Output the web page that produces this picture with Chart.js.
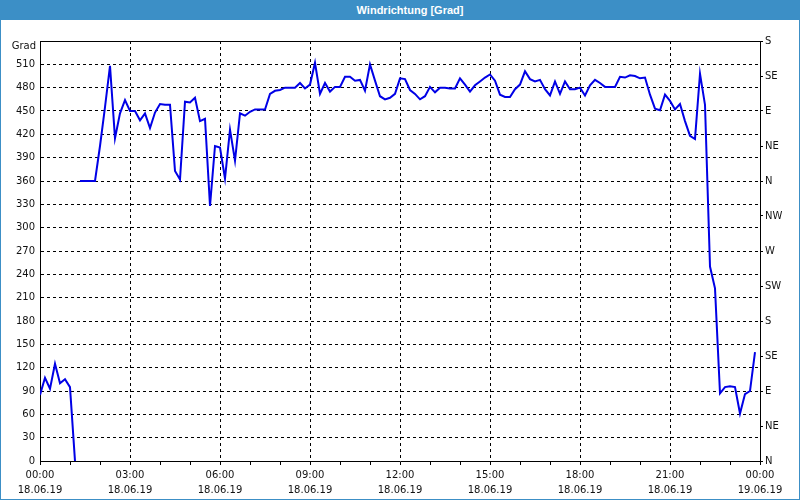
<!DOCTYPE html>
<html>
<head>
<meta charset="utf-8">
<title>Windrichtung</title>
<script src="https://cdn.jsdelivr.net/npm/chart.js@4"></script>
<style>
  html, body { margin: 0; padding: 0; background: #fff; }
  #frame { position: relative; width: 800px; height: 500px; overflow: hidden; background: #fff; }
  #head { position: absolute; left: 0; top: 0; width: 800px; height: 20px; background: #3c8fc6;
          color: #fff; font: bold 11px "Liberation Sans", sans-serif; line-height: 20px;
          text-align: center; box-sizing: border-box; padding-left: 20px; }
  #plot { position: absolute; left: 0; top: 20px; width: 800px; height: 480px; }
  #edge { position: absolute; left: 0; top: 0; width: 800px; height: 500px; box-sizing: border-box;
          border: 1px solid #3c8fc6; pointer-events: none; }
</style>
</head>
<body>
<div id="frame">
  <div id="head">Windrichtung [Grad]</div>
  <div id="plot"><canvas id="windChart"></canvas></div>
  <div id="edge"></div>
</div>
<script>
// one reading every 10 minutes, starting 18.06.19 00:00
const stepMinutes = 10;
const days = ['18.06.19', '19.06.19'];
const grad = [
  85, 107, 93, 125, 100, 105, 95, 0,                 // 00:00 - 01:10
  360, 360, 360, 360, 405, 455, 508, 415, 447, 464,  // 01:20 - 02:50
  450, 450, 438, 447, 428, 448, 459, 458, 458, 373,  // 03:00 - 04:30
  362, 462, 461, 467, 437, 440, 328, 405, 403, 363,  // 04:40 - 06:10
  426, 386, 447, 444, 449, 452, 452, 452, 472, 476,  // 06:20 - 07:50
  477, 480, 480, 480, 486, 479, 484, 512, 472, 486,  // 08:00 - 09:30
  475, 481, 481, 494, 494, 489, 490, 476, 510, 489,  // 09:40 - 11:10
  469, 465, 467, 472, 492, 491, 477, 472, 465, 469,  // 11:20 - 12:50
  481, 474, 480, 480, 479, 479, 492, 484, 475, 483,  // 13:00 - 14:30
  488, 493, 497, 489, 471, 468, 468, 478, 484, 501,  // 14:40 - 16:10
  491, 488, 490, 478, 470, 488, 472, 488, 478, 478,  // 16:20 - 17:50
  480, 470, 483, 490, 486, 481, 481, 481, 494, 493,  // 18:00 - 19:30
  496, 495, 492, 493, 471, 453, 451, 471, 463, 452,  // 19:40 - 21:10
  459, 437, 418, 414, 498, 458, 250, 222, 87, 95,    // 21:20 - 22:50
  96, 95, 61, 86, 90, 140                            // 23:00 - 23:50
];
const wrapAfter = 7; // direction wraps from 0 to 360 here, line is broken
const compass = ['N', 'NE', 'E', 'SE', 'S', 'SW', 'W', 'NW', 'N', 'NE', 'E', 'SE', 'S'];

const points = [];
grad.forEach((v, i) => {
  points.push({ x: i * stepMinutes / 60, y: v });
  if (i === wrapAfter) points.push({ x: (i + 0.5) * stepMinutes / 60, y: null });
});

const tickFont = { family: 'DejaVu Sans', size: 10, lineHeight: 1.5 };
const clear = 'rgba(0,0,0,0)';

const frameTop = {
  id: 'frameTop',
  afterDraw(chart) {
    const { ctx, chartArea: a } = chart;
    ctx.save();
    ctx.strokeStyle = '#000';
    ctx.lineWidth = 1;
    ctx.beginPath();
    ctx.moveTo(a.left, Math.round(a.top) + 0.5);
    ctx.lineTo(a.right, Math.round(a.top) + 0.5);
    ctx.stroke();
    ctx.fillStyle = '#111';
    ctx.font = '10px "DejaVu Sans"';
    ctx.textAlign = 'right';
    ctx.textBaseline = 'middle';
    ctx.fillText('Grad', a.left - 4, a.top + 5);
    ctx.restore();
  }
};

new Chart('windChart', {
  type: 'line',
  data: {
    datasets: [{
      data: points,
      yAxisID: 'y',
      borderColor: '#0000e6',
      borderWidth: 2,
      pointRadius: 0,
      tension: 0,
      spanGaps: false
    }]
  },
  options: {
    responsive: true,
    maintainAspectRatio: false,
    animation: false,
    layout: { padding: { top: 21, left: 0, right: 0, bottom: 0 } },
    plugins: { legend: { display: false }, tooltip: { enabled: false } },
    scales: {
      x: {
        type: 'linear', min: 0, max: 24,
        afterFit: s => { s.height = 39; },
        ticks: {
          stepSize: 1, autoSkip: false, maxRotation: 0, padding: 3, color: '#111', font: tickFont,
          callback: v => v % 3 ? '' : [String(v % 24).padStart(2, '0') + ':00', days[v < 24 ? 0 : 1]]
        },
        grid: {
          color: c => (c.tick && c.tick.value % 3 === 0 && c.tick.value > 0 && c.tick.value < 24) ? '#000' : clear,
          tickColor: '#000', tickLength: 4, tickBorderDash: []
        },
        border: { display: true, color: '#000', dash: [3, 3] }
      },
      y: {
        position: 'left', min: 0, max: 540,
        afterFit: s => { s.width = 40; },
        ticks: { stepSize: 30, padding: 5, color: '#111', font: tickFont, callback: v => v === 540 ? '' : v },
        grid: {
          color: c => (c.tick && c.tick.value > 0 && c.tick.value < 540) ? '#000' : clear,
          drawTicks: false
        },
        border: { display: true, color: '#000', dash: [3, 3] }
      },
      y2: {
        position: 'right', min: 0, max: 540,
        afterFit: s => { s.width = 40; },
        ticks: { stepSize: 45, padding: 2, color: '#111', font: tickFont, callback: v => compass[v / 45] },
        grid: { drawOnChartArea: false, tickLength: 3, color: '#000' },
        border: { display: true, color: '#000' }
      }
    }
  },
  plugins: [frameTop]
});
</script>
</body>
</html>
